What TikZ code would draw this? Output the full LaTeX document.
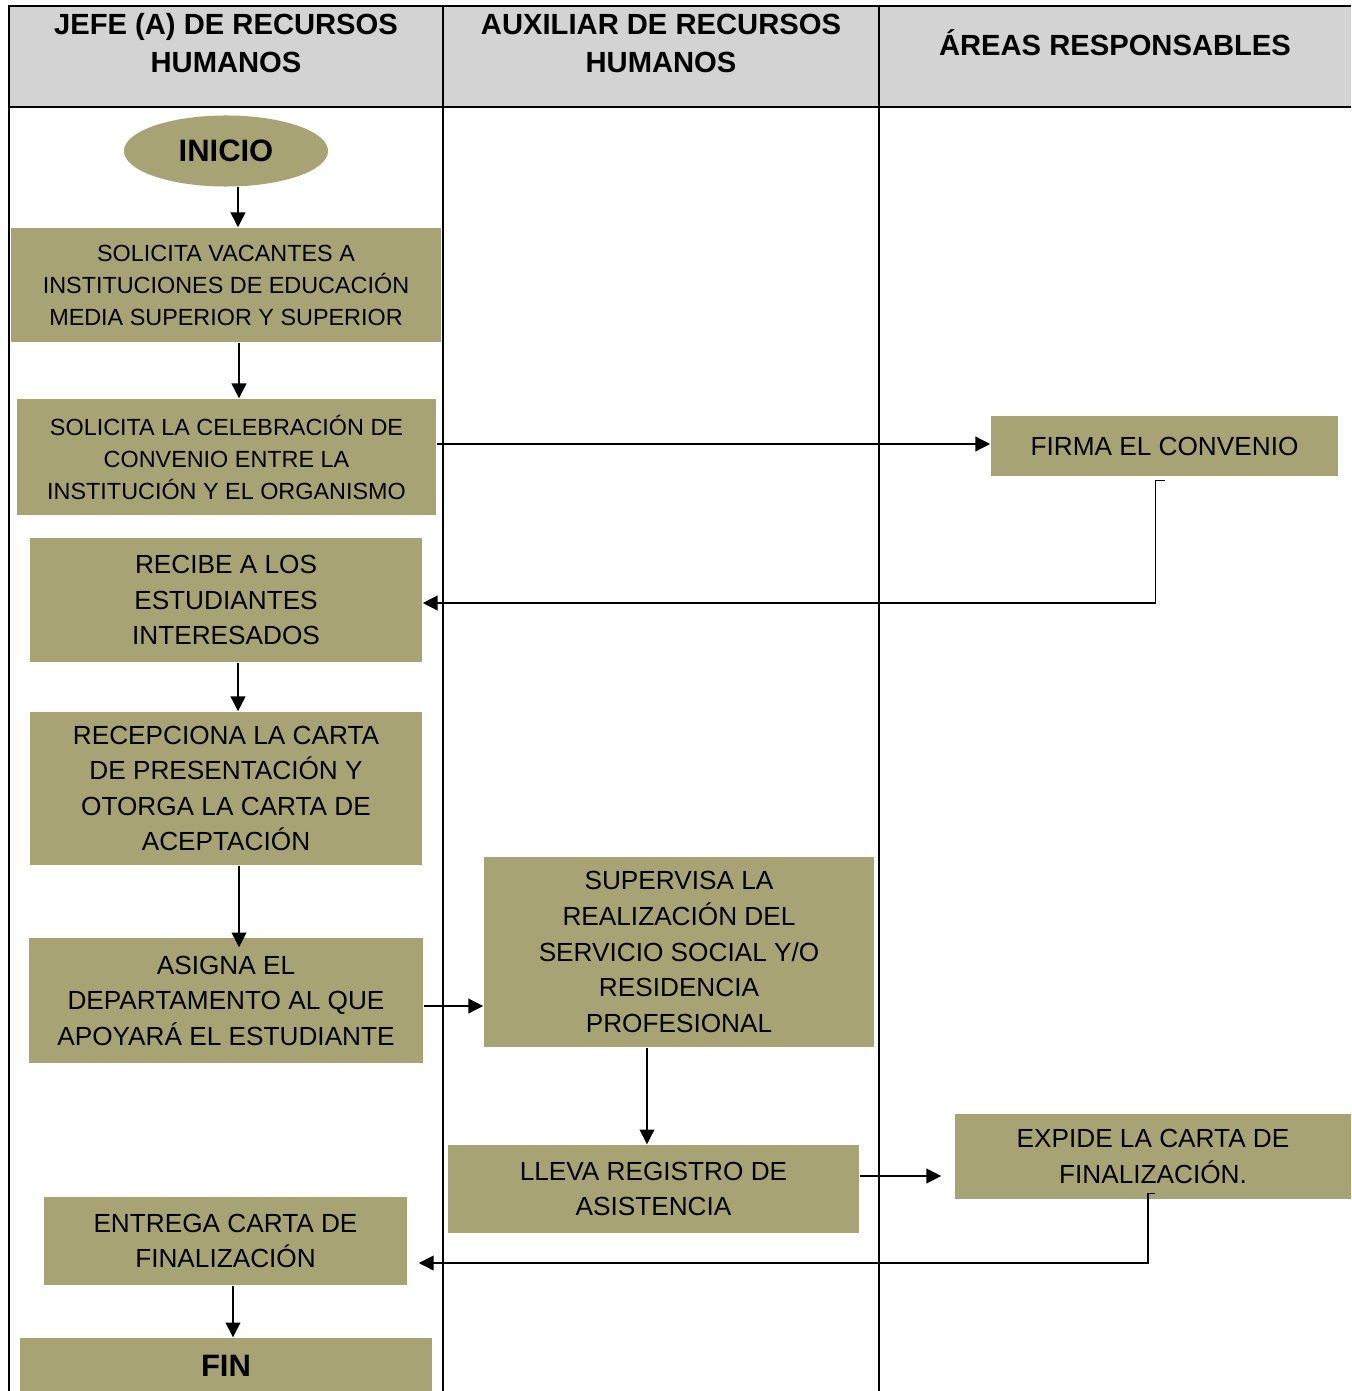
\documentclass[tikz,border=0pt]{standalone}
\usepackage{fontspec}
\setmainfont{Liberation Sans}
\usetikzlibrary{positioning,arrows.meta,shapes.geometric}
\definecolor{boxolive}{HTML}{A8A374}
\definecolor{headgray}{HTML}{D3D3D3}

\begin{document}
\begin{tikzpicture}[
  x=0.01cm, y=-0.01cm,
  lane/.style={line width=0.6pt},
  proc/.style={fill=boxolive, inner sep=0pt, align=center,
    font=\fontsize{7.45}{10.1}\selectfont},
  procsm/.style={proc, font=\fontsize{6.65}{9.1}\selectfont},
  term/.style={fill=boxolive, inner sep=0pt, font=\bfseries\fontsize{8.8}{10}\selectfont},
  head/.style={align=center, font=\bfseries\fontsize{8.3}{10.8}\selectfont},
  flow/.style={-{Triangle[length=4.2pt,width=4.2pt]}, line width=0.4pt}
]
  \useasboundingbox (0,0) rectangle (1351,1391);

  % --- swimlanes --------------------------------------------------------
  \fill[headgray] (9,6) rectangle (1351,107);
  \draw[lane] (1351,6) -- (9,6) -- (9,1391);
  \draw[lane] (9,107) -- (1351,107);
  \draw[lane] (443,6) -- (443,1391);
  \draw[lane] (879,6) -- (879,1391);

  \node[head] (hjefe)  at (226,43)  {JEFE (A) DE RECURSOS\\HUMANOS};
  \node[head] (haux)   at (661,43)  {AUXILIAR DE RECURSOS\\HUMANOS};
  \node[head] (hareas) at (1115,43) {ÁREAS RESPONSABLES};

  % --- jefe (a) de recursos humanos -------------------------------------
  \node[term, ellipse, minimum width=2.04cm, minimum height=0.71cm] (inicio) at (226,151) {INICIO};
  \node[procsm, minimum width=4.30cm, minimum height=1.14cm] (vacantes) at (226,285)
    {SOLICITA VACANTES A\\INSTITUCIONES DE EDUCACIÓN\\MEDIA SUPERIOR Y SUPERIOR};
  \node[procsm, minimum width=4.19cm, minimum height=1.16cm] (convenio) at (226.5,457)
    {SOLICITA LA CELEBRACIÓN DE\\CONVENIO ENTRE LA\\INSTITUCIÓN Y EL ORGANISMO};
  \node[proc, minimum width=3.92cm, minimum height=1.24cm] (recibe) at (226,600)
    {RECIBE A LOS\\ESTUDIANTES\\INTERESADOS};
  \node[proc, minimum width=3.92cm, minimum height=1.53cm] (recepciona) at (226,788.5)
    {RECEPCIONA LA CARTA\\DE PRESENTACIÓN Y\\OTORGA LA CARTA DE\\ACEPTACIÓN};
  \node[proc, minimum width=3.94cm, minimum height=1.25cm] (asigna) at (226,1000.5)
    {ASIGNA EL\\DEPARTAMENTO AL QUE\\APOYARÁ EL ESTUDIANTE};
  \node[proc, minimum width=3.63cm, minimum height=0.88cm] (entrega) at (225.5,1241)
    {ENTREGA CARTA DE\\FINALIZACIÓN};
  \node[term, rectangle, minimum width=4.12cm, minimum height=0.53cm, text depth=0pt] (fin) at (226,1364.5)
    {\raisebox{-0.9pt}{FIN}};

  % --- auxiliar de recursos humanos -------------------------------------
  \node[proc, minimum width=3.90cm, minimum height=1.90cm] (supervisa) at (679,952)
    {SUPERVISA LA\\REALIZACIÓN DEL\\SERVICIO SOCIAL Y/O\\RESIDENCIA\\PROFESIONAL};
  \node[proc, minimum width=4.11cm, minimum height=0.88cm] (registro) at (653.5,1189)
    {LLEVA REGISTRO DE\\ASISTENCIA};

  % --- areas responsables -----------------------------------------------
  \node[proc, minimum width=3.47cm, minimum height=0.60cm] (firma) at (1164.5,446)
    {FIRMA EL CONVENIO};
  \node[proc, minimum width=3.96cm, minimum height=0.85cm] (expide) at (1153,1156.5)
    {EXPIDE LA CARTA DE\\FINALIZACIÓN.};

  % --- flow ---------------------------------------------------------------
  \draw[flow] ([xshift=0.12cm]inicio.south) -- ([xshift=0.12cm]inicio.south |- vacantes.north);
  \draw[flow] ([xshift=0.13cm]vacantes.south) -- ([xshift=0.13cm]vacantes.south |- convenio.north);
  \draw[flow] ([yshift=0.02cm]convenio.east |- firma.west) -- ([yshift=0.02cm]firma.west);
  \draw[flow] ([yshift=-0.04cm]firma.south) -- ++(-9,0) |- ([yshift=-0.03cm]recibe.east);
  \draw[flow] ([xshift=0.12cm]recibe.south) -- ([xshift=0.12cm]recibe.south |- recepciona.north);
  \draw[flow] ([xshift=0.13cm]recepciona.south) -- ([xshift=0.13cm,yshift=-0.1cm]recepciona.south |- asigna.north);
  \draw[flow] ([yshift=-0.055cm]asigna.east) -- ([yshift=-0.055cm]asigna.east -| supervisa.west);
  \draw[flow] ([xshift=-0.32cm]supervisa.south) -- ([xshift=-0.32cm]supervisa.south |- registro.north);
  \draw[flow] ([yshift=0.13cm]registro.east) -- ([yshift=0.13cm,xshift=-0.13cm]registro.east -| expide.west);
  \draw[flow] ([xshift=0.02cm,yshift=0.06cm]expide.south) -- ++(-7,0) |- ([xshift=0.11cm,yshift=-0.22cm]entrega.east);
  \draw[flow] ([xshift=0.075cm]entrega.south) -- ([xshift=0.075cm]entrega.south |- fin.north);
\end{tikzpicture}
\end{document}
